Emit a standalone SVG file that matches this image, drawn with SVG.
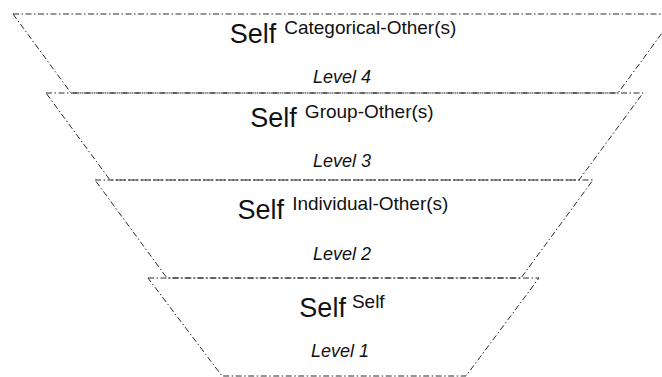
<svg xmlns="http://www.w3.org/2000/svg" width="662" height="377" viewBox="0 0 662 377">
<style>
.edge{fill:none;stroke:#2a2a2a;stroke-width:1;stroke-dasharray:6 2.5 1.5 2.5}
.main{font-family:"Liberation Sans",Arial,sans-serif;font-size:27px;fill:#111;text-anchor:middle}
.sup{font-size:19px}
.lvl{font-family:"Liberation Sans",Arial,sans-serif;font-size:18px;font-style:italic;fill:#111;text-anchor:middle}
</style>
<rect width="662" height="377" fill="#fff"/>
<g id="level4">
<polygon class="edge" points="13,14 676,14 618,93 71,93"/>
<text class="main" x="343" y="43">Self<tspan class="sup" dx="8" dy="-9">Categorical-Other(s)</tspan></text>
<text class="lvl" x="342" y="83">Level 4</text>
</g>
<g id="level3">
<polygon class="edge" points="46,93 643,93 579,180 110,180"/>
<text class="main" x="342" y="127">Self<tspan class="sup" dx="8" dy="-9">Group-Other(s)</tspan></text>
<text class="lvl" x="342" y="167">Level 3</text>
</g>
<g id="level2">
<polygon class="edge" points="95,180 593,180 521,278 167,278"/>
<text class="main" x="343" y="219">Self<tspan class="sup" dx="8" dy="-9">Individual-Other(s)</tspan></text>
<text class="lvl" x="342" y="260">Level 2</text>
</g>
<g id="level1">
<polygon class="edge" points="148,278 539,278 466,376 222,376"/>
<text class="main" x="342" y="317">Self<tspan class="sup" dx="6" dy="-9">Self</tspan></text>
<text class="lvl" x="340" y="357">Level 1</text>
</g>
</svg>
